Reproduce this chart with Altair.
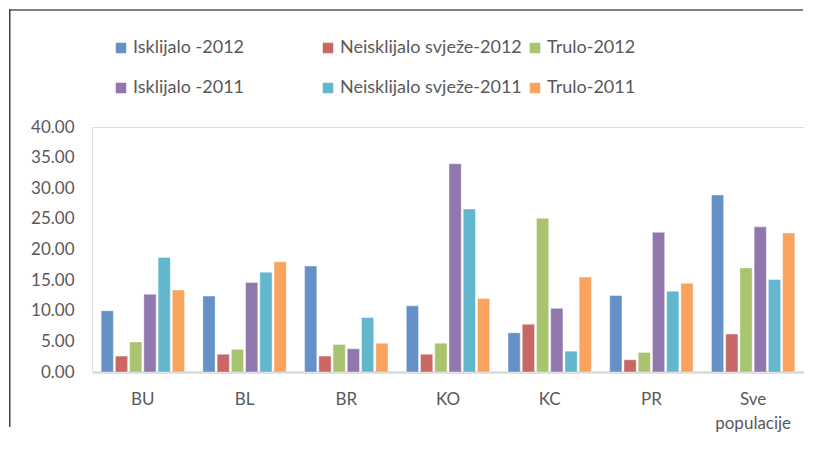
import altair as alt
import pandas as pd

categories = ["BU", "BL", "BR", "KO", "KC", "PR", "Sve populacije"]
series = [
    "Isklijalo -2012",
    "Neisklijalo svježe-2012",
    "Trulo-2012",
    "Isklijalo -2011",
    "Neisklijalo svježe-2011",
    "Trulo-2011",
]
isklijalo_2012 = [10.0, 12.4, 17.3, 10.8, 6.4, 12.5, 28.9]
neisklijalo_2012 = [2.6, 2.9, 2.6, 2.9, 7.8, 2.0, 6.2]
trulo_2012 = [4.9, 3.7, 4.5, 4.7, 25.1, 3.2, 17.0]
isklijalo_2011 = [12.7, 14.6, 3.8, 34.0, 10.4, 22.8, 23.7]
neisklijalo_2011 = [18.7, 16.3, 8.9, 26.6, 3.4, 13.2, 15.1]
trulo_2011 = [13.4, 18.0, 4.7, 12.0, 15.5, 14.5, 22.7]
colors = ["#4F81BD", "#C0504D", "#9BBB59", "#8064A2", "#4BACC6", "#F79646"]
y_ticks = [0, 5, 10, 15, 20, 25, 30, 35, 40]

all_values = [isklijalo_2012, neisklijalo_2012, trulo_2012,
              isklijalo_2011, neisklijalo_2011, trulo_2011]
rows = []
for s, vals in zip(series, all_values):
    for c, v in zip(categories, vals):
        rows.append({"category": c, "series": s, "value": v})
df = pd.DataFrame(rows)

FONT = "Lato"
GREY = "#595959"

bars = alt.Chart(df).mark_bar(
    stroke="white", strokeWidth=0.6, strokeOpacity=0.7, fillOpacity=0.87
).encode(
    x=alt.X("category:N", sort=categories, title=None,
            scale=alt.Scale(paddingInner=0.18, paddingOuter=0.09),
            axis=alt.Axis(labelAngle=0, ticks=False, domain=True,
                          domainColor="#d9d9d9", domainWidth=2.5,
                          labelFont=FONT, labelFontSize=17, labelColor=GREY,
                          labelPadding=19, labelLineHeight=24,
                          labelExpr="datum.value == 'Sve populacije' ? ['Sve', 'populacije'] : datum.value")),
    xOffset=alt.XOffset("series:N", sort=series,
                        scale=alt.Scale(paddingInner=0.14, paddingOuter=0)),
    y=alt.Y("value:Q", title=None,
            scale=alt.Scale(domain=[0, 40], nice=False),
            axis=alt.Axis(values=y_ticks, format=".2f", grid=False, ticks=False,
                          domain=False, labelFont=FONT, labelFontSize=17,
                          labelColor=GREY, labelPadding=18)),
    color=alt.Color("series:N", sort=series,
                    scale=alt.Scale(domain=series, range=colors),
                    legend=alt.Legend(title=None, orient="none", legendX=20,
                                      legendY=-88, columns=3, direction="horizontal",
                                      gridAlign="all",
                                      symbolType="square", symbolSize=110,
                                      symbolStrokeWidth=0, symbolOpacity=0.87,
                                      labelFont=FONT, labelFontSize=18,
                                      labelColor=GREY, labelOffset=3,
                                      labelLimit=400,
                                      rowPadding=22, columnPadding=4)),
)

frame = pd.DataFrame({"k": [0]})
top_band = alt.Chart(frame).mark_rect(fill="#7f7f7f", strokeWidth=0).encode(
    x=alt.value(-83), x2=alt.value(711), y=alt.value(-118), y2=alt.value(-116))
left_band = alt.Chart(frame).mark_rect(fill="#404040", strokeWidth=0).encode(
    x=alt.value(-83), x2=alt.value(-81.5), y=alt.value(-118), y2=alt.value(300))

chart = alt.layer(bars, top_band, left_band).properties(
    width=712, height=245,
    padding={"left": 84, "top": 119, "right": 0, "bottom": 60},
    autosize=alt.AutoSizeParams(type="none"),
).configure_view(stroke=None).configure(background="white")

chart.save("out.html", embed_options={"renderer": "svg", "actions": False})
